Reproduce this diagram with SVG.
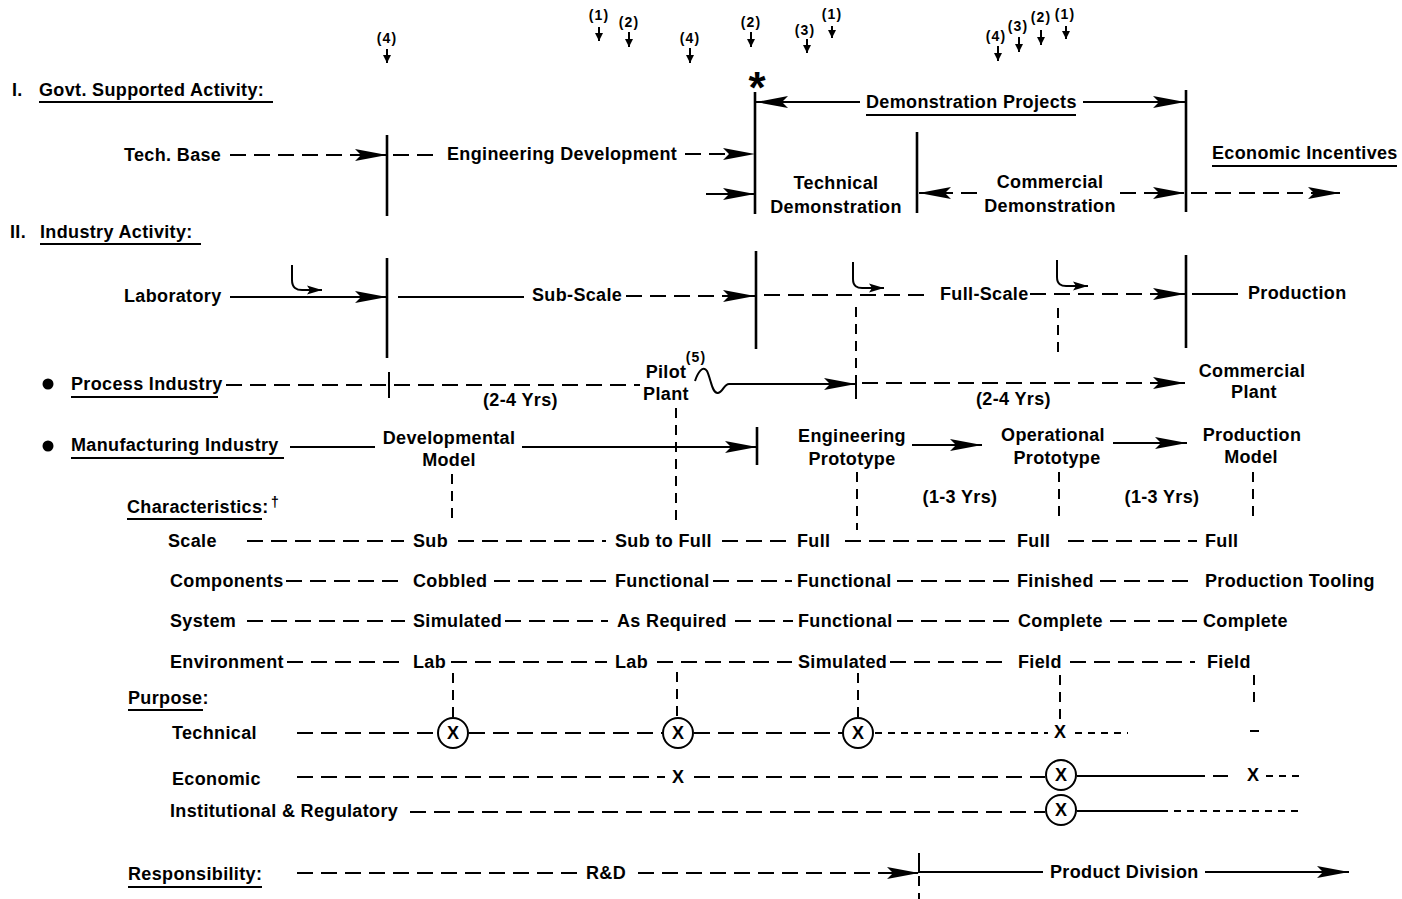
<svg xmlns="http://www.w3.org/2000/svg" width="1402" height="899" viewBox="0 0 1402 899">
<defs>
<style>
text{font-family:"Liberation Sans",Arial,Helvetica,sans-serif;font-weight:bold;font-size:18px;letter-spacing:0.35px;fill:#000}
.m{text-anchor:middle}
.s{font-size:14px;letter-spacing:1.2px}
.x{font-size:18px;letter-spacing:0;text-anchor:middle}
.ln{stroke:#000;stroke-width:2;fill:none}
.bar{stroke:#000;stroke-width:2.6;fill:none}
.d{stroke-dasharray:16 8}
.dt{stroke-dasharray:7 6}
.vd{stroke-dasharray:10 7}
.ul{stroke:#000;stroke-width:1.8}
.ring{stroke:#000;stroke-width:2;fill:#fff}
.ah{marker-end:url(#ah)}
.sa{marker-end:url(#sa)}
.ha{marker-end:url(#ha)}
</style>
<marker id="ah" markerUnits="userSpaceOnUse" markerWidth="34" markerHeight="14" refX="32" refY="7" orient="auto"><path d="M0,1 L32,7 L0,13 L6,7 Z" fill="#000"/></marker>
<marker id="sa" markerUnits="userSpaceOnUse" markerWidth="9" markerHeight="9" refX="8" refY="4.5" orient="auto"><path d="M0,0.5 L8,4.5 L0,8.5 Z" fill="#000"/></marker>
<marker id="ha" markerUnits="userSpaceOnUse" markerWidth="16" markerHeight="10" refX="15" refY="5" orient="auto"><path d="M0,0.5 L15,5 L0,9.5 L3,5 Z" fill="#000"/></marker>
</defs>
<rect width="1402" height="899" fill="#fff"/>

<!-- top reference markers -->
<g id="ref-markers">
<text class="s m" x="387" y="43">(4)</text>
<text class="s m" x="599" y="20">(1)</text>
<text class="s m" x="629" y="27">(2)</text>
<text class="s m" x="690" y="43">(4)</text>
<text class="s m" x="751" y="27">(2)</text>
<text class="s m" x="805" y="35">(3)</text>
<text class="s m" x="832" y="19">(1)</text>
<text class="s m" x="996" y="41">(4)</text>
<text class="s m" x="1018" y="31">(3)</text>
<text class="s m" x="1041" y="22">(2)</text>
<text class="s m" x="1065" y="19">(1)</text>
</g>

<g id="heading-govt">
<text x="12" y="96">I.</text>
<text x="39" y="96">Govt. Supported Activity:</text>
<line class="ul" x1="39" y1="102" x2="273" y2="102"/>
</g>
<g id="heading-industry">
<text x="10" y="238">II.</text>
<text x="40" y="238">Industry Activity:</text>
<line class="ul" x1="40" y1="244" x2="201" y2="244"/>
</g>

<g id="tech-base"><text x="124" y="161">Tech. Base</text></g>
<g id="engineering-development"><text x="447" y="160">Engineering Development</text></g>
<g id="asterisk"><text class="m" x="757" y="103" style="font-size:44px;letter-spacing:0">*</text></g>
<g id="demonstration-projects">
<text x="866" y="108">Demonstration Projects</text>
<line class="ul" x1="866" y1="115" x2="1076" y2="115"/>
</g>
<g id="technical-demonstration">
<text class="m" x="836" y="189">Technical</text>
<text class="m" x="836" y="213">Demonstration</text>
</g>
<g id="commercial-demonstration">
<text class="m" x="1050" y="188">Commercial</text>
<text class="m" x="1050" y="212">Demonstration</text>
</g>
<g id="economic-incentives">
<text x="1212" y="159">Economic Incentives</text>
<line class="ul" x1="1212" y1="166" x2="1397" y2="166"/>
</g>

<g id="laboratory"><text x="124" y="302">Laboratory</text></g>
<g id="sub-scale"><text x="532" y="301">Sub-Scale</text></g>
<g id="full-scale"><text x="940" y="300">Full-Scale</text></g>
<g id="production"><text x="1248" y="299">Production</text></g>

<g id="process-industry">
<circle cx="48" cy="384" r="5.5" fill="#000"/>
<text x="71" y="390">Process Industry</text>
<line class="ul" x1="71" y1="397" x2="218" y2="397"/>
</g>
<g id="pilot-plant">
<text class="m" x="666" y="378">Pilot</text>
<text class="m" x="666" y="400">Plant</text>
<text class="s m" x="696" y="362">(5)</text>
</g>
<g id="process-yrs-1"><text x="483" y="406">(2-4 Yrs)</text></g>
<g id="process-yrs-2"><text x="976" y="405">(2-4 Yrs)</text></g>
<g id="commercial-plant">
<text class="m" x="1252" y="377">Commercial</text>
<text class="m" x="1254" y="398">Plant</text>
</g>

<g id="manufacturing-industry">
<circle cx="48" cy="446" r="5.5" fill="#000"/>
<text x="71" y="451">Manufacturing Industry</text>
<line class="ul" x1="71" y1="458" x2="284" y2="458"/>
</g>
<g id="developmental-model">
<text class="m" x="449" y="444">Developmental</text>
<text class="m" x="449" y="466">Model</text>
</g>
<g id="engineering-prototype">
<text class="m" x="852" y="442">Engineering</text>
<text class="m" x="852" y="465">Prototype</text>
</g>
<g id="operational-prototype">
<text class="m" x="1053" y="441">Operational</text>
<text class="m" x="1057" y="464">Prototype</text>
</g>
<g id="production-model">
<text class="m" x="1252" y="441">Production</text>
<text class="m" x="1251" y="463">Model</text>
</g>
<g id="mfg-yrs-1"><text class="m" x="960" y="503">(1-3 Yrs)</text></g>
<g id="mfg-yrs-2"><text class="m" x="1162" y="503">(1-3 Yrs)</text></g>

<g id="characteristics">
<text x="127" y="513">Characteristics:</text>
<line class="ul" x1="127" y1="519" x2="262" y2="519"/>
<text class="s" x="271" y="507">†</text>
</g>
<g id="row-scale">
<text x="168" y="547">Scale</text>
<text x="413" y="547">Sub</text>
<text x="615" y="547">Sub to Full</text>
<text x="797" y="547">Full</text>
<text x="1017" y="547">Full</text>
<text x="1205" y="547">Full</text>
</g>
<g id="row-components">
<text x="170" y="587">Components</text>
<text x="413" y="587">Cobbled</text>
<text x="615" y="587">Functional</text>
<text x="797" y="587">Functional</text>
<text x="1017" y="587">Finished</text>
<text x="1205" y="587">Production Tooling</text>
</g>
<g id="row-system">
<text x="170" y="627">System</text>
<text x="413" y="627">Simulated</text>
<text x="617" y="627">As Required</text>
<text x="798" y="627">Functional</text>
<text x="1018" y="627">Complete</text>
<text x="1203" y="627">Complete</text>
</g>
<g id="row-environment">
<text x="170" y="668">Environment</text>
<text x="413" y="668">Lab</text>
<text x="615" y="668">Lab</text>
<text x="798" y="668">Simulated</text>
<text x="1018" y="668">Field</text>
<text x="1207" y="668">Field</text>
</g>

<g id="purpose">
<text x="128" y="704">Purpose:</text>
<line class="ul" x1="128" y1="710" x2="203" y2="710"/>
</g>
<g id="purpose-technical"><text x="172" y="739">Technical</text></g>
<g id="purpose-economic"><text x="172" y="785">Economic</text></g>
<g id="purpose-institutional"><text x="170" y="817">Institutional &amp; Regulatory</text></g>

<g id="marks">
<circle class="ring" cx="453" cy="733" r="15"/><text class="x" x="453" y="739">X</text>
<circle class="ring" cx="678" cy="733" r="15"/><text class="x" x="678" y="739">X</text>
<circle class="ring" cx="858" cy="733" r="15"/><text class="x" x="858" y="739">X</text>
<text class="x" x="1060" y="738">X</text>
<text class="x" x="678" y="783">X</text>
<circle class="ring" cx="1061" cy="775" r="15"/><text class="x" x="1061" y="781">X</text>
<text class="x" x="1253" y="781">X</text>
<circle class="ring" cx="1061" cy="810" r="15"/><text class="x" x="1061" y="816">X</text>
</g>

<g id="responsibility">
<text x="128" y="880">Responsibility:</text>
<line class="ul" x1="128" y1="887" x2="262" y2="887"/>
</g>
<g id="rnd"><text x="586" y="879">R&amp;D</text></g>
<g id="product-division"><text x="1050" y="878">Product Division</text></g>

<g id="connectors">
<!-- top small arrows -->
<path class="ln sa" d="M387,49 V63"/>
<path class="ln sa" d="M599,27 V41"/>
<path class="ln sa" d="M629,32 V47"/>
<path class="ln sa" d="M690,48 V63"/>
<path class="ln sa" d="M751,32 V47"/>
<path class="ln sa" d="M807,39 V53"/>
<path class="ln sa" d="M832,26 V38"/>
<path class="ln sa" d="M998,46 V61"/>
<path class="ln sa" d="M1019,37 V52"/>
<path class="ln sa" d="M1041,30 V45"/>
<path class="ln sa" d="M1066,26 V39"/>

<!-- Govt row -->
<path class="ln d ah" d="M230,155 H387"/>
<path class="bar" d="M387,135 V216"/>
<path class="ln d" d="M393,155 H440"/>
<path class="ln d ah" d="M685,154 H755"/>
<path class="ln ah" d="M706,194 H755"/>
<path class="bar" d="M755,92 V214"/>
<path class="ln ah" d="M860,102 H756"/>
<path class="ln ah" d="M1083,102 H1185"/>
<path class="bar" d="M1186,90 V212"/>
<path class="bar" d="M917,132 V213"/>
<path class="ln d ah" d="M977,193 H919"/>
<path class="ln d ah" d="M1120,193 H1185"/>
<path class="ln d ah" d="M1191,193 H1340"/>

<!-- Industry row -->
<path class="ln ah" d="M230,297 H387"/>
<path class="ln ha" d="M292,265 V280 Q292,291 304,290 H322"/>
<path class="bar" d="M387,258 V358"/>
<path class="ln" d="M398,297 H524"/>
<path class="ln d ah" d="M626,296 H755"/>
<path class="bar" d="M756,251 V349"/>
<path class="ln d" d="M764,295 H932"/>
<path class="ln ha" d="M853,262 V279 Q853,289 864,288 H884"/>
<path class="ln d ah" d="M1030,294 H1185"/>
<path class="ln ha" d="M1057,260 V277 Q1057,287 1068,286 H1088"/>
<path class="bar" d="M1186,255 V348"/>
<path class="ln" d="M1192,294 H1238"/>
<path class="ln vd" d="M856,307 V372"/>
<path class="ln vd" d="M1058,308 V354"/>

<!-- Process row -->
<path class="ln d" d="M226,385 H640"/>
<path class="ln" d="M389,372 V398"/>
<path class="ln" d="M695,381 C698,372 703,365 707,371 C711,379 712,394 718,393 C723,392 724,384 729,384"/>
<path class="ln ah" d="M729,384 H856"/>
<path class="ln" d="M856,375 V399"/>
<path class="ln d ah" d="M862,383 H1185"/>

<!-- Manufacturing row -->
<path class="ln" d="M290,447 H375"/>
<path class="ln ah" d="M522,447 H757"/>
<path class="bar" d="M757,427 V465"/>
<path class="ln ah" d="M912,445 H982"/>
<path class="ln ah" d="M1113,443 H1187"/>

<!-- vertical dashed guides -->
<path class="ln vd" d="M452,474 V525"/>
<path class="ln vd" d="M676,408 V525"/>
<path class="ln vd" d="M857,472 V530"/>
<path class="ln vd" d="M1059,472 V523"/>
<path class="ln vd" d="M1253,472 V518"/>
<path class="ln vd" d="M453,673 V718"/>
<path class="ln vd" d="M677,672 V718"/>
<path class="ln vd" d="M858,673 V718"/>
<path class="ln vd" d="M1060,675 V720"/>
<path class="ln vd" d="M1254,675 V705"/>
<path class="ln" d="M1250,731 H1259"/>

<!-- characteristics rows -->
<path class="ln d" d="M247,541 H404 M458,541 H606 M722,541 H790 M845,541 H1010 M1068,541 H1197"/>
<path class="ln d" d="M286,581 H404 M494,581 H606 M713,581 H792 M897,581 H1010 M1100,581 H1195"/>
<path class="ln d" d="M247,621 H405 M505,621 H608 M735,621 H793 M897,621 H1010 M1110,621 H1197"/>
<path class="ln d" d="M287,662 H405 M451,662 H607 M657,662 H792 M890,662 H1010 M1070,662 H1195"/>

<!-- purpose rows -->
<path class="ln d" d="M297,733 H437 M469,733 H663 M694,733 H843"/>
<path class="ln dt" d="M875,733 H1048 M1075,733 H1128"/>
<path class="ln d" d="M297,777 H665 M694,777 H1045"/>
<path class="ln" d="M1077,776 H1205"/>
<path class="ln" d="M1213,776 H1228"/>
<path class="ln dt" d="M1266,776 H1301"/>
<path class="ln d" d="M410,812 H1045"/>
<path class="ln" d="M1077,811 H1168"/>
<path class="ln dt" d="M1174,811 H1302"/>

<!-- responsibility row -->
<path class="ln d" d="M297,873 H578"/>
<path class="ln d ah" d="M638,873 H919"/>
<path class="ln" d="M919,853 V873"/>
<path class="ln vd" d="M919,876 V899"/>
<path class="ln" d="M920,872 H1043"/>
<path class="ln ah" d="M1205,872 H1349"/>
</g>
</svg>
